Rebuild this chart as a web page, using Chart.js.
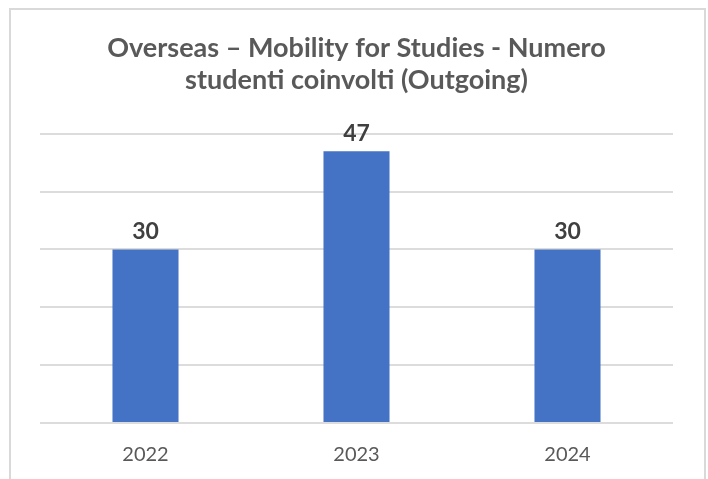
<!DOCTYPE html>
<html>
<head>
<meta charset="utf-8">
<script src="https://cdn.jsdelivr.net/npm/chart.js@4.4.1/dist/chart.umd.min.js"></script>
<style>
  html, body { margin: 0; padding: 0; background: #fff; }
  #wrap { position: relative; width: 708px; height: 479px; }
  #frame {
    position: absolute; left: 9px; top: 8px; width: 693px; height: 480px;
    border: 2px solid #d9d9d9; border-bottom: none; pointer-events: none;
  }
</style>
</head>
<body>
<div id="wrap">
  <canvas id="chart" width="708" height="479"></canvas>
  <div id="frame"></div>
</div>
<script>
const years = ['2022', '2023', '2024'];
const students = [30, 47, 30];
const titleLines = ['Overseas \u2013 Mobility for Studies - Numero', 'studenti coinvolti (Outgoing)'];

// labels above each bar
const valueLabels = {
  id: 'valueLabels',
  afterDatasetsDraw(chart) {
    const ctx = chart.ctx;
    const meta = chart.getDatasetMeta(0);
    ctx.save();
    ctx.font = 'bold 23px Lato';
    ctx.fillStyle = '#404040';
    ctx.textAlign = 'center';
    ctx.textBaseline = 'middle';
    meta.data.forEach((bar, i) => {
      ctx.fillText(students[i], bar.x, bar.y - 18);
    });
    ctx.restore();
  }
};

new Chart(document.getElementById('chart'), {
  type: 'bar',
  data: {
    labels: years,
    datasets: [{
      data: students,
      backgroundColor: '#4472C4',
      categoryPercentage: 1,
      barPercentage: 0.313
    }]
  },
  options: {
    responsive: false,
    animation: false,
    layout: { padding: { left: 40, right: 35, top: 0, bottom: 0 } },
    plugins: {
      legend: { display: false },
      tooltip: { enabled: false },
      title: {
        display: true,
        text: titleLines,
        color: '#595959',
        font: { family: 'Lato', size: 27, weight: 'bold', lineHeight: 1.2 },
        padding: { top: 32, bottom: 37 }
      }
    },
    scales: {
      x: {
        grid: { display: false, drawTicks: false },
        border: { display: false },
        ticks: { color: '#595959', font: { family: 'Lato', size: 20 }, padding: 20 },
        afterFit(scale) { scale.height = 56; }
      },
      y: {
        min: 0,
        max: 50,
        ticks: { display: false, stepSize: 10 },
        grid: { color: '#dcdcdc', lineWidth: 2, drawTicks: false },
        border: { display: false }
      }
    }
  },
  plugins: [valueLabels]
});
</script>
</body>
</html>
